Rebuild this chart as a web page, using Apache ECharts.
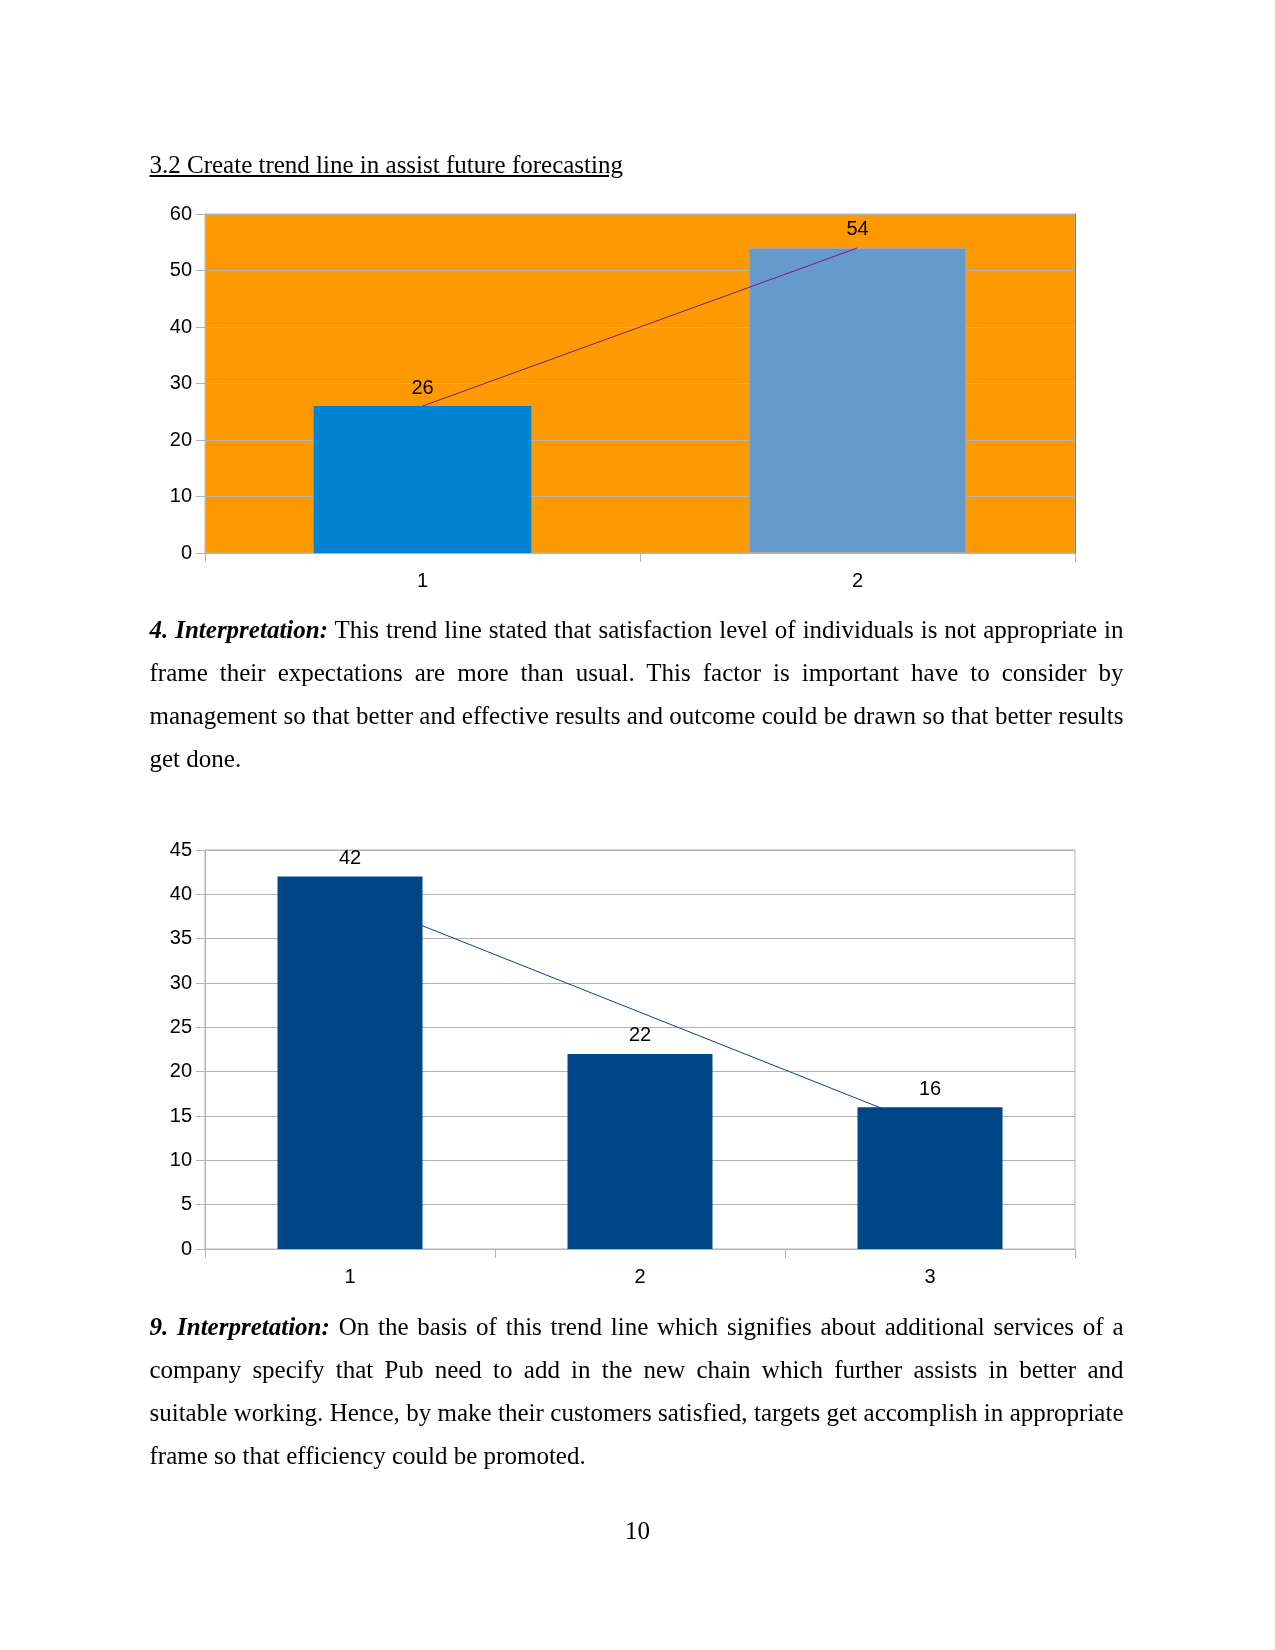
<!DOCTYPE html>
<html>
<head>
<meta charset="utf-8">
<script src="https://cdn.jsdelivr.net/npm/echarts@6/dist/echarts.min.js"></script>
<style>
    body { margin: 0; background: #fff; }
    #page { position: relative; width: 1275px; height: 1650px; overflow: hidden; }
    #main { position: absolute; left: 0; top: 0; width: 1275px; height: 1650px; }
    .txt { position: absolute; font-family: 'Liberation Serif', 'Times New Roman', serif; font-size: 25px; color: #000; z-index: 2; }
    .para { left: 149.5px; width: 974px; line-height: 43.1px; }
    .para div { text-align: justify; text-align-last: justify; white-space: normal; }
    .para div.last { text-align-last: left; }
</style>
</head>
<body>
<div id="page">
    <div id="main"></div>
    <div class="txt" style="left:149.5px; top:150px; line-height:30px; text-decoration:underline;">3.2 Create trend line in assist future forecasting</div>
    <div class="txt para" style="top:607.5px;">
        <div><b><i>4. Interpretation:</i></b> This trend line stated that satisfaction level of individuals is not appropriate in</div>
        <div>frame their expectations are more than usual. This factor is important have to consider by</div>
        <div>management so that better and effective results and outcome could be drawn so that better results</div>
        <div class="last">get done.</div>
    </div>
    <div class="txt para" style="top:1305px;">
        <div><b><i>9. Interpretation:</i></b> On the basis of this trend line which signifies about additional services of a</div>
        <div>company specify that Pub need to add in the new chain which further assists in better and</div>
        <div>suitable working. Hence, by make their customers satisfied, targets get accomplish in appropriate</div>
        <div class="last">frame so that efficiency could be promoted.</div>
    </div>
    <div class="txt" style="left:0; width:1275px; text-align:center; top:1515.7px; line-height:30px;">10</div>
</div>
<script>
    // chart 1 : satisfaction
    var cats1 = ['1', '2'];
    var values1 = [26, 54];
    var trend1 = [26, 54];
    var ticks1 = {min: 0, max: 60, interval: 10};

    // chart 2 : additional services
    var cats2 = ['1', '2', '3'];
    var values2 = [42, 22, 16];
    var trend2 = [39.7, 26.7, 13.7];
    var ticks2 = {min: 0, max: 45, interval: 5};

    var barColors1 = ['#0084d1', '#6699cc'];
    var gray = '#b3b3b3';
    var fontAxis = 'Liberation Sans';

    var myChart = echarts.init(document.getElementById('main'));

    function yAxisOf(idx, t) {
        return {
            type: 'value',
            gridIndex: idx,
            min: t.min,
            max: t.max,
            interval: t.interval,
            axisLine: {show: true, lineStyle: {color: gray, width: 1}},
            axisTick: {show: true, length: 9, lineStyle: {color: gray}},
            axisLabel: {color: '#000', fontSize: 20, fontFamily: fontAxis, margin: 13},
            splitLine: {show: true, lineStyle: {color: gray, width: 1}}
        };
    }

    function xAxisOf(idx, cats) {
        return {
            type: 'category',
            gridIndex: idx,
            data: cats,
            boundaryGap: true,
            axisLine: {show: true, lineStyle: {color: gray, width: 1}},
            axisTick: {show: true, length: 9, lineStyle: {color: gray}},
            axisLabel: {color: '#000', fontSize: 20, fontFamily: fontAxis, margin: 18},
            splitLine: {show: false}
        };
    }

    var labelTop = {show: true, position: 'top', distance: 8, color: '#000', fontSize: 20, fontFamily: fontAxis};

    var option = {
        animation: false,
        grid: [
            {left: 205, top: 214, width: 870, height: 339, show: true, backgroundColor: '#ff9900', borderColor: gray, borderWidth: 1},
            {left: 205, top: 850, width: 870, height: 399, show: true, backgroundColor: 'transparent', borderColor: gray, borderWidth: 1}
        ],
        xAxis: [xAxisOf(0, cats1), xAxisOf(1, cats2)],
        yAxis: [
            yAxisOf(0, ticks1),
            yAxisOf(1, ticks2),
            {   // darker right edge of the orange area
                type: 'value', gridIndex: 0, position: 'right', min: ticks1.min, max: ticks1.max,
                axisLine: {show: true, lineStyle: {color: '#e0601a', width: 1}},
                axisTick: {show: false}, axisLabel: {show: false}, splitLine: {show: false}
            }
        ],
        series: [
            {
                type: 'bar',
                xAxisIndex: 0,
                yAxisIndex: 0,
                barWidth: '50%',
                z: 2,
                data: values1.map(function (v, i) {
                    return {
                        value: v,
                        itemStyle: {color: barColors1[i], borderColor: i == 1 ? '#a0a8b0' : barColors1[i], borderWidth: i == 1 ? 1 : 0}
                    };
                }),
                label: labelTop
            },
            {
                type: 'line',
                xAxisIndex: 0,
                yAxisIndex: 0,
                z: 3,
                data: trend1,
                symbol: 'none',
                lineStyle: {color: '#7a1a8c', width: 1},
                silent: true
            },
            {
                type: 'line',
                xAxisIndex: 1,
                yAxisIndex: 1,
                z: 1,
                data: trend2,
                symbol: 'none',
                lineStyle: {color: '#004586', width: 1},
                silent: true
            },
            {
                type: 'bar',
                xAxisIndex: 1,
                yAxisIndex: 1,
                barWidth: '50%',
                z: 2,
                data: values2,
                itemStyle: {color: '#004586'},
                label: labelTop
            }
        ]
    };
    myChart.setOption(option);
</script>
</body>
</html>
